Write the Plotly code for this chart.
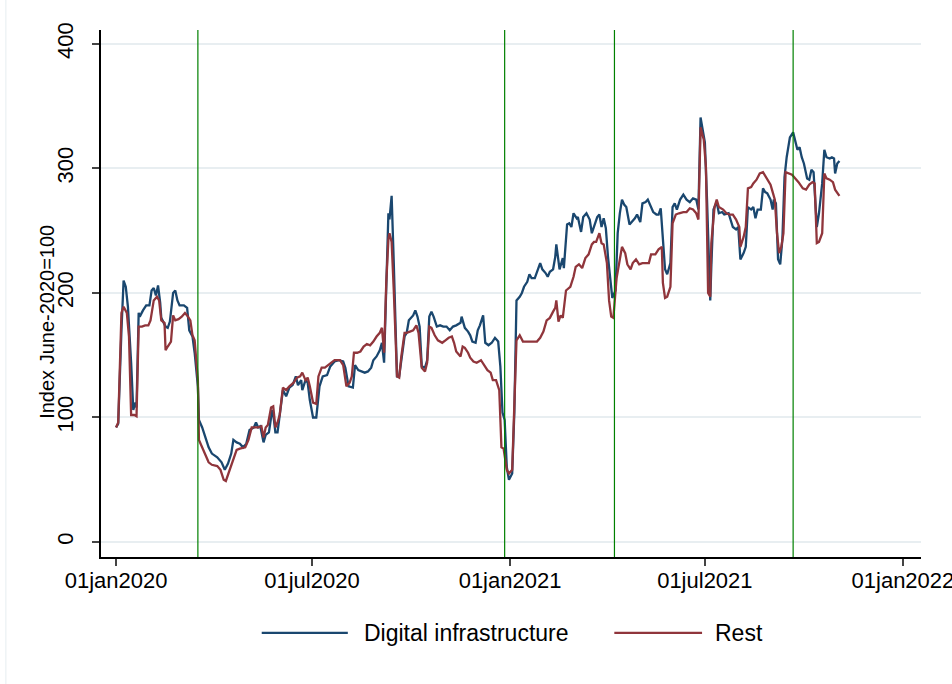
import pandas as pd
import plotly.graph_objects as go

# Dates are stored as days since 01jan2020
start_date = "2020-01-01"

digital_days = [0, 2, 5, 7, 9, 11, 14, 16, 18, 19, 21, 22, 25, 28, 31, 33, 35, 37, 39, 41, 42, 46, 48, 50, 53, 55, 57, 59, 63, 66,
                68, 71, 73, 76, 77, 80, 83, 86, 89, 94, 98, 101, 104, 107, 109, 112, 115, 118, 121, 124, 128, 130, 132, 134, 137, 139, 142, 145, 146, 148,
                150, 152, 155, 158, 161, 164, 167, 169, 172, 173, 176, 178, 180, 183, 186, 189, 192, 196, 199, 203, 207, 211, 213, 216, 219, 220, 222, 225, 228, 231,
                234, 237, 239, 242, 245, 247, 249, 251, 253, 254, 256, 258, 261, 263, 265, 268, 270, 272, 276, 278, 280, 282, 284, 287, 289, 291, 293, 295, 298, 301,
                304, 307, 310, 313, 316, 320, 321, 324, 327, 329, 331, 334, 336, 338, 341, 343, 346, 349, 352, 355, 357, 359, 361, 363, 365, 368, 370, 372, 375, 377,
                379, 382, 384, 386, 389, 392, 394, 396, 399, 401, 403, 406, 408, 409, 411, 412, 415, 416, 419, 421, 423, 425, 428, 429, 432, 434, 437, 440, 442, 443,
                445, 447, 449, 451, 453, 455, 457, 460, 461, 464, 466, 468, 470, 472, 474, 477, 479, 482, 484, 487, 489, 492, 494, 497, 499, 502, 504, 506, 508, 510,
                512, 515, 517, 519, 521, 524, 527, 530, 533, 536, 539, 541, 543, 545, 547, 549, 552, 553, 555, 558, 560, 563, 565, 569, 571, 573, 576, 578, 580, 583,
                585, 587, 590, 592, 594, 596, 599, 601, 603, 605, 608, 610, 611, 613, 615, 617, 619, 621, 623, 626, 629, 631, 633, 635, 637, 639, 642, 644, 646, 648,
                650, 651, 653, 656, 658, 660, 663, 665, 667, 668, 670, 672]
digital_vals = [92, 95, 170, 210, 205, 189, 144, 106, 112, 108, 184, 181, 186, 190, 190, 202, 204, 198, 206, 192, 180, 173, 172, 177, 200, 202, 194, 190, 190, 188,
                170, 165, 152, 125, 98, 92, 84, 76, 71, 68, 64, 58, 63, 71, 82, 80, 79, 76, 79, 90, 92, 96, 92, 93, 80, 86, 88, 106, 103, 88,
                88, 100, 122, 117, 124, 126, 133, 126, 130, 122, 130, 128, 114, 100, 100, 125, 133, 134, 141, 145, 146, 145, 140, 125, 124, 124, 142, 138, 137, 136,
                137, 140, 146, 149, 154, 160, 144, 210, 264, 259, 278, 224, 133, 133, 146, 165, 168, 178, 182, 186, 181, 173, 141, 140, 146, 181, 185, 181, 173, 174,
                173, 173, 170, 173, 174, 176, 181, 172, 169, 166, 161, 160, 170, 174, 182, 160, 158, 160, 164, 161, 141, 104, 98, 60, 50, 55, 104, 194, 197, 200,
                205, 209, 215, 212, 212, 220, 224, 219, 216, 213, 217, 219, 229, 239, 225, 219, 228, 220, 255, 256, 253, 264, 260, 261, 249, 261, 264, 259, 248, 251,
                257, 261, 263, 253, 260, 252, 229, 202, 196, 202, 248, 264, 275, 271, 269, 255, 257, 260, 263, 257, 272, 273, 275, 269, 265, 263, 263, 268, 240, 219,
                215, 224, 269, 272, 267, 275, 279, 275, 273, 276, 275, 267, 341, 331, 321, 275, 194, 221, 267, 273, 264, 265, 263, 264, 259, 253, 251, 253, 227, 232,
                237, 269, 267, 269, 260, 267, 267, 284, 281, 280, 275, 267, 275, 272, 227, 223, 243, 293, 309, 325, 329, 323, 315, 317, 309, 304, 292, 291, 299, 297,
                267, 253, 264, 288, 315, 309, 308, 309, 308, 296, 304, 306]

rest_days = [0, 2, 5, 7, 10, 12, 14, 17, 19, 21, 24, 27, 30, 32, 35, 38, 40, 42, 45, 46, 48, 51, 53, 55, 58, 61, 64, 66, 69, 71,
             73, 76, 77, 80, 83, 86, 89, 94, 97, 100, 102, 104, 107, 109, 112, 115, 120, 123, 126, 129, 132, 135, 137, 139, 141, 144, 146, 148, 150, 152,
             155, 158, 161, 165, 168, 171, 173, 176, 178, 180, 183, 186, 188, 191, 194, 197, 200, 203, 208, 211, 214, 217, 219, 221, 224, 227, 230, 233, 236, 239,
             242, 245, 247, 249, 251, 253, 254, 256, 258, 261, 263, 265, 268, 270, 273, 276, 279, 281, 284, 287, 289, 291, 293, 296, 299, 303, 306, 309, 312, 314,
             316, 320, 322, 324, 327, 329, 332, 335, 339, 342, 345, 348, 350, 353, 356, 358, 360, 363, 365, 368, 370, 372, 375, 378, 382, 386, 391, 394, 397, 400,
             403, 406, 408, 409, 411, 413, 415, 418, 422, 425, 427, 430, 433, 436, 439, 442, 444, 446, 449, 451, 453, 456, 458, 460, 462, 465, 468, 470, 473, 475,
             478, 480, 483, 486, 489, 492, 495, 497, 501, 504, 507, 508, 510, 512, 515, 517, 520, 523, 527, 530, 533, 536, 539, 541, 543, 546, 548, 550, 552, 553,
             555, 556, 558, 560, 564, 567, 570, 573, 576, 579, 580, 583, 585, 587, 590, 592, 595, 598, 601, 604, 608, 610, 612, 614, 616, 618, 620, 622, 625, 628,
             631, 634, 638, 641, 644, 647, 649, 651, 653, 656, 658, 660, 663, 666, 668, 670, 672]
rest_vals = [92, 96, 184, 189, 184, 165, 102, 102, 101, 173, 173, 174, 174, 178, 194, 197, 194, 178, 176, 154, 157, 161, 182, 178, 179, 181, 184, 182, 178, 166,
             162, 130, 82, 76, 70, 64, 62, 61, 58, 50, 49, 54, 63, 68, 74, 75, 76, 82, 92, 92, 92, 93, 84, 92, 94, 108, 109, 92, 96, 102,
             124, 122, 125, 128, 132, 133, 136, 130, 132, 125, 112, 111, 133, 140, 140, 142, 144, 146, 146, 142, 125, 128, 133, 152, 152, 153, 157, 159, 158, 161,
             165, 168, 172, 152, 208, 243, 248, 241, 202, 133, 132, 149, 168, 168, 169, 170, 174, 168, 140, 137, 144, 173, 172, 166, 162, 160, 162, 164, 165, 160,
             153, 149, 157, 156, 152, 148, 145, 144, 146, 142, 138, 136, 130, 130, 122, 76, 75, 58, 55, 58, 104, 162, 166, 161, 161, 161, 161, 164, 169, 178,
             180, 185, 188, 194, 177, 182, 180, 202, 205, 213, 221, 223, 220, 228, 231, 239, 241, 241, 248, 240, 239, 224, 194, 181, 180, 212, 227, 237, 232, 223,
             219, 224, 227, 223, 224, 224, 224, 231, 231, 235, 237, 208, 196, 197, 205, 256, 263, 264, 265, 265, 268, 267, 264, 259, 333, 323, 301, 200, 197, 240,
             265, 269, 275, 269, 267, 264, 263, 263, 259, 253, 237, 245, 253, 284, 285, 288, 291, 296, 297, 293, 287, 281, 275, 248, 232, 237, 248, 297, 296, 295,
             292, 289, 284, 283, 287, 289, 288, 240, 241, 248, 296, 292, 291, 289, 283, 280, 278]

# Vertical reference lines
event_dates = ["2020-03-17", "2020-12-27", "2021-04-08", "2021-09-21"]

tick_dates = ["2020-01-01", "2020-07-01", "2021-01-01", "2021-07-01", "2022-01-01"]
tick_text = ["01jan2020", "01jul2020", "01jan2021", "01jul2021", "01jan2022"]
y_ticks = [0, 100, 200, 300, 400]

series_names = ["Digital infrastructure", "Rest"]
series_colors = ["#1a476f", "#90353b"]

FONT = "Liberation Sans, Arial, sans-serif"


def to_dates(days):
    return pd.to_datetime(start_date) + pd.to_timedelta(days, unit="D")


fig = go.Figure()

fig.add_trace(go.Scatter(x=to_dates(digital_days), y=digital_vals, mode="lines",
                         name=series_names[0], line=dict(color=series_colors[0], width=2.3)))
fig.add_trace(go.Scatter(x=to_dates(rest_days), y=rest_vals, mode="lines",
                         name=series_names[1], line=dict(color=series_colors[1], width=2.3)))

# green event lines over the full plot height
for d in event_dates:
    fig.add_shape(type="line", xref="x", yref="paper", x0=d, x1=d, y0=0, y1=1,
                  line=dict(color="#008000", width=1.2), layer="above")

# hand-drawn legend, Stata style (long line samples)
legend_pos = [(0.196, 0.301, 0.318), (0.626, 0.733, 0.746)]
for (x0, x1, xt), name, color in zip(legend_pos, series_names, series_colors):
    fig.add_shape(type="line", xref="paper", yref="paper", x0=x0, x1=x1, y0=-0.144, y1=-0.144,
                  line=dict(color=color, width=2.2))
    fig.add_annotation(xref="paper", yref="paper", x=xt, y=-0.144, text=name, showarrow=False,
                       xanchor="left", yanchor="middle", font=dict(size=23, color="black", family=FONT))

# y-axis title
fig.add_annotation(xref="paper", yref="paper", x=-0.066, y=0.446, text="Index June-2020=100",
                   textangle=-90, showarrow=False, xanchor="center", yanchor="middle",
                   font=dict(size=20, color="black", family=FONT))

# faint outer frame line at the left edge
fig.add_shape(type="line", xref="paper", yref="paper", x0=-0.116, x1=-0.116, y0=-0.241, y1=1.057,
              line=dict(color="#e6edf0", width=1))

fig.update_layout(
    width=952, height=684,
    margin=dict(l=101, r=31, t=30, b=127, autoexpand=False),
    paper_bgcolor="white", plot_bgcolor="white",
    showlegend=False,
    font=dict(family=FONT, color="black"),
)

fig.update_xaxes(
    range=["2019-12-18", "2022-01-17 19:00"],
    tickvals=tick_dates, ticktext=tick_text,
    ticklabeloverflow="allow", automargin=False,
    ticklabelstandoff=-4,
    showgrid=False, zeroline=False,
    showline=True, linecolor="black", linewidth=1.5,
    ticks="outside", ticklen=7, tickwidth=1.5, tickcolor="#444",
    tickfont=dict(size=22, family=FONT, color="black"),
)
fig.update_yaxes(
    range=[-12.05, 411.2],
    tickvals=y_ticks,
    tickangle=-90, automargin=False,
    showgrid=True, gridcolor="#e8eef1", gridwidth=1.5,
    zeroline=False,
    showline=True, linecolor="black", linewidth=1.5,
    ticks="outside", ticklen=7, tickwidth=1.5, tickcolor="#444",
    ticklabelstandoff=10,
    tickfont=dict(size=22, family=FONT, color="black"),
)

fig.write_html("out.html", config={"displayModeBar": False},
               post_script="document.body.style.margin='0';")
